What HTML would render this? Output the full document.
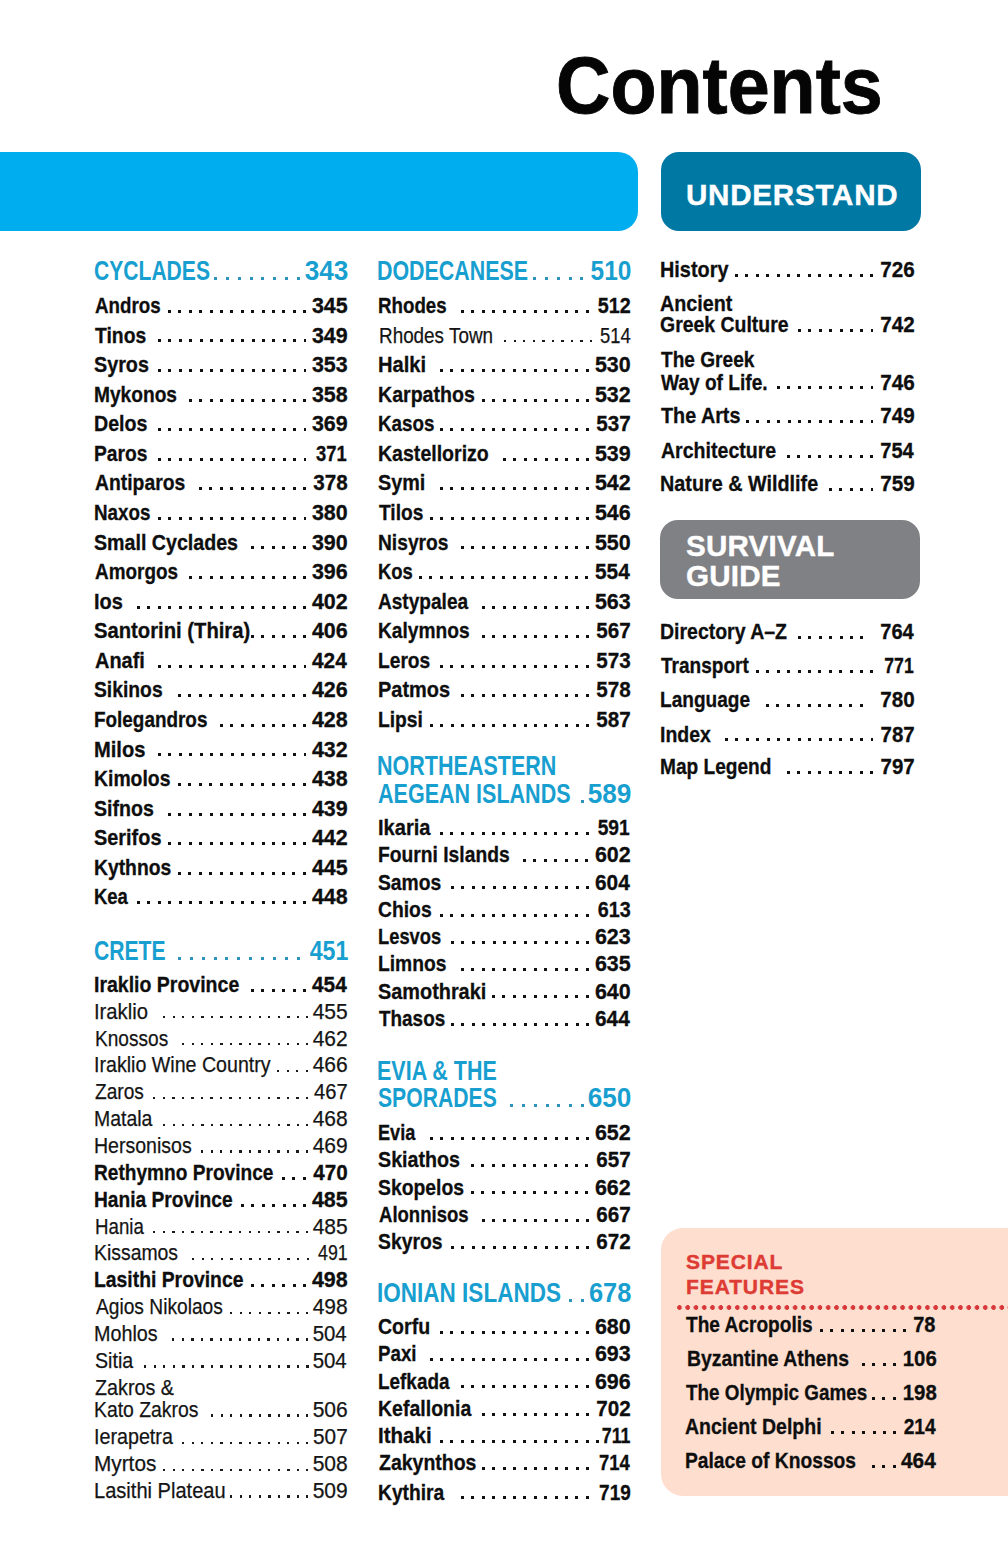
<!DOCTYPE html><html><head><meta charset="utf-8"><title>Contents</title><style>

*{margin:0;padding:0;box-sizing:border-box}
html,body{width:1008px;height:1552px;background:#fff;overflow:hidden}
body{position:relative;font-family:"Liberation Sans",sans-serif;color:#111}
.title{position:absolute;left:0;top:0;font-weight:bold;white-space:nowrap;color:#050505}
.bar{position:absolute;left:-30px;top:152px;width:668px;height:79px;background:#00aeef;border-radius:20px}
.box{position:absolute;color:#fff;font-weight:bold;white-space:nowrap}
.und{left:661px;top:152px;width:260px;height:79px;background:#0078a4;border-radius:18px}
.surv{left:660px;top:520px;width:260px;height:79px;background:#808185;border-radius:18px}
.spec{position:absolute;left:661px;top:1228px;width:380px;height:268px;background:#fddecf;border-radius:22px}
.row{position:absolute;height:30px;line-height:30px;white-space:nowrap}
.row .l{position:absolute;top:0;transform-origin:0 0}
.dt{position:absolute;display:block}
.row .n{position:absolute;top:0;transform-origin:100% 0}
.row.b{font-weight:bold;color:#0e0e0e;-webkit-text-stroke:0.3px #0e0e0e}
.row.r{font-weight:normal;color:#141414;-webkit-text-stroke:0.25px #141414}
.row.h{font-weight:bold;color:#189fd0}
.sph{position:absolute;left:686px;top:0;font-weight:bold;color:#dd3b34;font-size:21px;line-height:24.6px;letter-spacing:0.9px;white-space:nowrap;-webkit-text-stroke:0.4px #dd3b34}
.dline{position:absolute;left:676.9px;top:1305px;width:340px;height:5px;background:radial-gradient(circle at 2.5px 2.5px,#d8383a 2.1px,transparent 2.6px) 0 0/8.28px 5px repeat-x}

</style></head><body>
<div class="title" style="left:555.5px;top:40.3px;-webkit-text-stroke:0.9px #050505;font-size:80px;line-height:92.0px;transform:scaleX(0.9425);transform-origin:0 0">Contents</div>
<div class="bar"></div>
<div class="box und"><span style="position:absolute;left:25px;top:24.5px;font-size:29.6px;line-height:36px;letter-spacing:0.75px;-webkit-text-stroke:0.4px #fff">UNDERSTAND</span></div>
<div class="box surv"><span style="position:absolute;left:26px;top:10.7px;font-size:29.6px;line-height:30.5px;letter-spacing:0.2px;-webkit-text-stroke:0.4px #fff">SURVIVAL<br>GUIDE</span></div>
<div class="spec"></div>
<div class="sph" style="top:1250.0px">SPECIAL<br>FEATURES</div>
<div class="dline"></div>
<div class="row h" style="left:91px;width:255.60px;top:256.18px;font-size:27.2px"><span class="l" style="left:2.80px;transform:scaleX(0.7755)">CYCLADES</span><span class="n" style="right:-1.81px;transform:scaleX(0.9616)">343</span><i class="dt" style="left:122.90px;top:20.62px;width:86.02px;height:3.0px;background:repeating-linear-gradient(90deg,#2e93bd 0 3.0px,transparent 3.0px 11.86px)"></i></div>
<div class="row b" style="left:90px;width:256.60px;top:290.98px;font-size:22.0px"><span class="l" style="left:4.60px;transform:scaleX(0.8520)">Andros</span><span class="n" style="right:-0.81px;transform:scaleX(0.9743)">345</span><i class="dt" style="left:77.90px;top:18.82px;width:138.20px;height:3.0px;background:repeating-linear-gradient(90deg,#111 0 3.0px,transparent 3.0px 10.4px)"></i></div>
<div class="row b" style="left:90px;width:256.60px;top:320.55px;font-size:22.0px"><span class="l" style="left:4.60px;transform:scaleX(0.8790)">Tinos</span><span class="n" style="right:-0.81px;transform:scaleX(0.9743)">349</span><i class="dt" style="left:67.50px;top:18.82px;width:148.60px;height:3.0px;background:repeating-linear-gradient(90deg,#111 0 3.0px,transparent 3.0px 10.4px)"></i></div>
<div class="row b" style="left:90px;width:256.60px;top:350.13px;font-size:22.0px"><span class="l" style="left:3.60px;transform:scaleX(0.8976)">Syros</span><span class="n" style="right:-0.81px;transform:scaleX(0.9743)">353</span><i class="dt" style="left:67.50px;top:18.82px;width:148.60px;height:3.0px;background:repeating-linear-gradient(90deg,#111 0 3.0px,transparent 3.0px 10.4px)"></i></div>
<div class="row b" style="left:90px;width:256.60px;top:379.70px;font-size:22.0px"><span class="l" style="left:3.60px;transform:scaleX(0.8708)">Mykonos</span><span class="n" style="right:-0.81px;transform:scaleX(0.9743)">358</span><i class="dt" style="left:98.70px;top:18.82px;width:117.40px;height:3.0px;background:repeating-linear-gradient(90deg,#111 0 3.0px,transparent 3.0px 10.4px)"></i></div>
<div class="row b" style="left:90px;width:256.60px;top:409.28px;font-size:22.0px"><span class="l" style="left:3.60px;transform:scaleX(0.8925)">Delos</span><span class="n" style="right:-0.81px;transform:scaleX(0.9743)">369</span><i class="dt" style="left:67.50px;top:18.82px;width:148.60px;height:3.0px;background:repeating-linear-gradient(90deg,#111 0 3.0px,transparent 3.0px 10.4px)"></i></div>
<div class="row b" style="left:90px;width:256.60px;top:438.85px;font-size:22.0px"><span class="l" style="left:3.60px;transform:scaleX(0.8745)">Paros</span><span class="n" style="right:0.19px;transform:scaleX(0.8368)">371</span><i class="dt" style="left:67.50px;top:18.82px;width:148.60px;height:3.0px;background:repeating-linear-gradient(90deg,#111 0 3.0px,transparent 3.0px 10.4px)"></i></div>
<div class="row b" style="left:90px;width:256.60px;top:468.43px;font-size:22.0px"><span class="l" style="left:4.60px;transform:scaleX(0.8786)">Antiparos</span><span class="n" style="right:-0.81px;transform:scaleX(0.9376)">378</span><i class="dt" style="left:109.10px;top:18.82px;width:107.00px;height:3.0px;background:repeating-linear-gradient(90deg,#111 0 3.0px,transparent 3.0px 10.4px)"></i></div>
<div class="row b" style="left:90px;width:256.60px;top:498.00px;font-size:22.0px"><span class="l" style="left:3.60px;transform:scaleX(0.8547)">Naxos</span><span class="n" style="right:-0.81px;transform:scaleX(0.9743)">380</span><i class="dt" style="left:67.50px;top:18.82px;width:148.60px;height:3.0px;background:repeating-linear-gradient(90deg,#111 0 3.0px,transparent 3.0px 10.4px)"></i></div>
<div class="row b" style="left:90px;width:256.60px;top:527.58px;font-size:22.0px"><span class="l" style="left:3.60px;transform:scaleX(0.8923)">Small Cyclades</span><span class="n" style="right:-0.81px;transform:scaleX(0.9743)">390</span><i class="dt" style="left:161.10px;top:18.82px;width:55.00px;height:3.0px;background:repeating-linear-gradient(90deg,#111 0 3.0px,transparent 3.0px 10.4px)"></i></div>
<div class="row b" style="left:90px;width:256.60px;top:557.15px;font-size:22.0px"><span class="l" style="left:4.60px;transform:scaleX(0.8597)">Amorgos</span><span class="n" style="right:-0.81px;transform:scaleX(0.9743)">396</span><i class="dt" style="left:98.70px;top:18.82px;width:117.40px;height:3.0px;background:repeating-linear-gradient(90deg,#111 0 3.0px,transparent 3.0px 10.4px)"></i></div>
<div class="row b" style="left:90px;width:256.60px;top:586.73px;font-size:22.0px"><span class="l" style="left:3.60px;transform:scaleX(0.9085)">Ios</span><span class="n" style="right:-0.81px;transform:scaleX(0.9743)">402</span><i class="dt" style="left:46.70px;top:18.82px;width:169.40px;height:3.0px;background:repeating-linear-gradient(90deg,#111 0 3.0px,transparent 3.0px 10.4px)"></i></div>
<div class="row b" style="left:90px;width:256.60px;top:616.30px;font-size:22.0px"><span class="l" style="left:3.60px;transform:scaleX(0.9196)">Santorini (Thira)</span><span class="n" style="right:-0.81px;transform:scaleX(0.9743)">406</span><i class="dt" style="left:161.10px;top:18.82px;width:55.00px;height:3.0px;background:repeating-linear-gradient(90deg,#111 0 3.0px,transparent 3.0px 10.4px)"></i></div>
<div class="row b" style="left:90px;width:256.60px;top:645.88px;font-size:22.0px"><span class="l" style="left:4.60px;transform:scaleX(0.9062)">Anafi</span><span class="n" style="right:0.19px;transform:scaleX(0.9465)">424</span><i class="dt" style="left:67.50px;top:18.82px;width:148.60px;height:3.0px;background:repeating-linear-gradient(90deg,#111 0 3.0px,transparent 3.0px 10.4px)"></i></div>
<div class="row b" style="left:90px;width:256.60px;top:675.45px;font-size:22.0px"><span class="l" style="left:3.60px;transform:scaleX(0.8770)">Sikinos</span><span class="n" style="right:-0.81px;transform:scaleX(0.9743)">426</span><i class="dt" style="left:88.30px;top:18.82px;width:127.80px;height:3.0px;background:repeating-linear-gradient(90deg,#111 0 3.0px,transparent 3.0px 10.4px)"></i></div>
<div class="row b" style="left:90px;width:256.60px;top:705.03px;font-size:22.0px"><span class="l" style="left:3.60px;transform:scaleX(0.8592)">Folegandros</span><span class="n" style="right:-0.81px;transform:scaleX(0.9743)">428</span><i class="dt" style="left:129.90px;top:18.82px;width:86.20px;height:3.0px;background:repeating-linear-gradient(90deg,#111 0 3.0px,transparent 3.0px 10.4px)"></i></div>
<div class="row b" style="left:90px;width:256.60px;top:734.60px;font-size:22.0px"><span class="l" style="left:3.60px;transform:scaleX(0.9152)">Milos</span><span class="n" style="right:-0.81px;transform:scaleX(0.9743)">432</span><i class="dt" style="left:67.50px;top:18.82px;width:148.60px;height:3.0px;background:repeating-linear-gradient(90deg,#111 0 3.0px,transparent 3.0px 10.4px)"></i></div>
<div class="row b" style="left:90px;width:256.60px;top:764.18px;font-size:22.0px"><span class="l" style="left:3.60px;transform:scaleX(0.8808)">Kimolos</span><span class="n" style="right:-0.81px;transform:scaleX(0.9743)">438</span><i class="dt" style="left:88.30px;top:18.82px;width:127.80px;height:3.0px;background:repeating-linear-gradient(90deg,#111 0 3.0px,transparent 3.0px 10.4px)"></i></div>
<div class="row b" style="left:90px;width:256.60px;top:793.75px;font-size:22.0px"><span class="l" style="left:3.60px;transform:scaleX(0.8900)">Sifnos</span><span class="n" style="right:-0.81px;transform:scaleX(0.9743)">439</span><i class="dt" style="left:77.90px;top:18.82px;width:138.20px;height:3.0px;background:repeating-linear-gradient(90deg,#111 0 3.0px,transparent 3.0px 10.4px)"></i></div>
<div class="row b" style="left:90px;width:256.60px;top:823.33px;font-size:22.0px"><span class="l" style="left:3.60px;transform:scaleX(0.9044)">Serifos</span><span class="n" style="right:-0.81px;transform:scaleX(0.9743)">442</span><i class="dt" style="left:77.90px;top:18.82px;width:138.20px;height:3.0px;background:repeating-linear-gradient(90deg,#111 0 3.0px,transparent 3.0px 10.4px)"></i></div>
<div class="row b" style="left:90px;width:256.60px;top:852.90px;font-size:22.0px"><span class="l" style="left:3.60px;transform:scaleX(0.8777)">Kythnos</span><span class="n" style="right:-0.81px;transform:scaleX(0.9743)">445</span><i class="dt" style="left:88.30px;top:18.82px;width:127.80px;height:3.0px;background:repeating-linear-gradient(90deg,#111 0 3.0px,transparent 3.0px 10.4px)"></i></div>
<div class="row b" style="left:90px;width:256.60px;top:882.48px;font-size:22.0px"><span class="l" style="left:3.60px;transform:scaleX(0.8398)">Kea</span><span class="n" style="right:-0.81px;transform:scaleX(0.9743)">448</span><i class="dt" style="left:46.70px;top:18.82px;width:169.40px;height:3.0px;background:repeating-linear-gradient(90deg,#111 0 3.0px,transparent 3.0px 10.4px)"></i></div>
<div class="row h" style="left:90px;width:257.60px;top:936.18px;font-size:27.2px"><span class="l" style="left:3.60px;transform:scaleX(0.7773)">CRETE</span><span class="n" style="right:-0.81px;transform:scaleX(0.8536)">451</span><i class="dt" style="left:88.32px;top:20.62px;width:121.60px;height:3.0px;background:repeating-linear-gradient(90deg,#2e93bd 0 3.0px,transparent 3.0px 11.86px)"></i></div>
<div class="row b" style="left:90px;width:256.60px;top:969.78px;font-size:22.0px"><span class="l" style="left:3.60px;transform:scaleX(0.8863)">Iraklio Province</span><span class="n" style="right:0.19px;transform:scaleX(0.9465)">454</span><i class="dt" style="left:161.10px;top:18.82px;width:55.00px;height:3.0px;background:repeating-linear-gradient(90deg,#111 0 3.0px,transparent 3.0px 10.4px)"></i></div>
<div class="row r" style="left:91px;width:255.60px;top:996.65px;font-size:22.0px"><span class="l" style="left:2.60px;transform:scaleX(0.9187)">Iraklio</span><span class="n" style="right:-0.81px;transform:scaleX(0.9546)">455</span><i class="dt" style="left:71.85px;top:19.42px;width:145.65px;height:2.4px;background:repeating-linear-gradient(90deg,#1a1a1a 0 2.4px,transparent 2.4px 9.55px)"></i></div>
<div class="row r" style="left:91px;width:255.60px;top:1023.52px;font-size:22.0px"><span class="l" style="left:3.60px;transform:scaleX(0.8681)">Knossos</span><span class="n" style="right:-0.81px;transform:scaleX(0.9546)">462</span><i class="dt" style="left:90.95px;top:19.42px;width:126.55px;height:2.4px;background:repeating-linear-gradient(90deg,#1a1a1a 0 2.4px,transparent 2.4px 9.55px)"></i></div>
<div class="row r" style="left:91px;width:255.60px;top:1050.39px;font-size:22.0px"><span class="l" style="left:2.60px;transform:scaleX(0.8917)">Iraklio Wine Country</span><span class="n" style="right:-0.81px;transform:scaleX(0.9546)">466</span><i class="dt" style="left:186.45px;top:19.42px;width:31.05px;height:2.4px;background:repeating-linear-gradient(90deg,#1a1a1a 0 2.4px,transparent 2.4px 9.55px)"></i></div>
<div class="row r" style="left:91px;width:255.60px;top:1077.26px;font-size:22.0px"><span class="l" style="left:3.60px;transform:scaleX(0.8686)">Zaros</span><span class="n" style="right:-0.81px;transform:scaleX(0.9149)">467</span><i class="dt" style="left:62.30px;top:19.42px;width:155.20px;height:2.4px;background:repeating-linear-gradient(90deg,#1a1a1a 0 2.4px,transparent 2.4px 9.55px)"></i></div>
<div class="row r" style="left:91px;width:255.60px;top:1104.13px;font-size:22.0px"><span class="l" style="left:2.60px;transform:scaleX(0.8851)">Matala</span><span class="n" style="right:-0.81px;transform:scaleX(0.9546)">468</span><i class="dt" style="left:71.85px;top:19.42px;width:145.65px;height:2.4px;background:repeating-linear-gradient(90deg,#1a1a1a 0 2.4px,transparent 2.4px 9.55px)"></i></div>
<div class="row r" style="left:91px;width:255.60px;top:1131.00px;font-size:22.0px"><span class="l" style="left:2.60px;transform:scaleX(0.8875)">Hersonisos</span><span class="n" style="right:-0.81px;transform:scaleX(0.9546)">469</span><i class="dt" style="left:110.05px;top:19.42px;width:107.45px;height:2.4px;background:repeating-linear-gradient(90deg,#1a1a1a 0 2.4px,transparent 2.4px 9.55px)"></i></div>
<div class="row b" style="left:90px;width:256.60px;top:1157.87px;font-size:22.0px"><span class="l" style="left:3.60px;transform:scaleX(0.8684)">Rethymno Province</span><span class="n" style="right:-0.81px;transform:scaleX(0.9376)">470</span><i class="dt" style="left:192.30px;top:18.82px;width:23.80px;height:3.0px;background:repeating-linear-gradient(90deg,#111 0 3.0px,transparent 3.0px 10.4px)"></i></div>
<div class="row b" style="left:90px;width:256.60px;top:1184.74px;font-size:22.0px"><span class="l" style="left:3.60px;transform:scaleX(0.8721)">Hania Province</span><span class="n" style="right:-0.81px;transform:scaleX(0.9743)">485</span><i class="dt" style="left:150.70px;top:18.82px;width:65.40px;height:3.0px;background:repeating-linear-gradient(90deg,#111 0 3.0px,transparent 3.0px 10.4px)"></i></div>
<div class="row r" style="left:91px;width:255.60px;top:1211.61px;font-size:22.0px"><span class="l" style="left:3.60px;transform:scaleX(0.8493)">Hania</span><span class="n" style="right:-0.81px;transform:scaleX(0.9546)">485</span><i class="dt" style="left:62.30px;top:19.42px;width:155.20px;height:2.4px;background:repeating-linear-gradient(90deg,#1a1a1a 0 2.4px,transparent 2.4px 9.55px)"></i></div>
<div class="row r" style="left:91px;width:255.60px;top:1238.48px;font-size:22.0px"><span class="l" style="left:2.60px;transform:scaleX(0.8814)">Kissamos</span><span class="n" style="right:-0.81px;transform:scaleX(0.8080)">491</span><i class="dt" style="left:100.50px;top:19.42px;width:117.00px;height:2.4px;background:repeating-linear-gradient(90deg,#1a1a1a 0 2.4px,transparent 2.4px 9.55px)"></i></div>
<div class="row b" style="left:90px;width:256.60px;top:1265.35px;font-size:22.0px"><span class="l" style="left:3.60px;transform:scaleX(0.8791)">Lasithi Province</span><span class="n" style="right:-0.81px;transform:scaleX(0.9743)">498</span><i class="dt" style="left:161.10px;top:18.82px;width:55.00px;height:3.0px;background:repeating-linear-gradient(90deg,#111 0 3.0px,transparent 3.0px 10.4px)"></i></div>
<div class="row r" style="left:91px;width:255.60px;top:1292.22px;font-size:22.0px"><span class="l" style="left:4.60px;transform:scaleX(0.8714)">Agios Nikolaos</span><span class="n" style="right:-0.81px;transform:scaleX(0.9546)">498</span><i class="dt" style="left:138.70px;top:19.42px;width:78.80px;height:2.4px;background:repeating-linear-gradient(90deg,#1a1a1a 0 2.4px,transparent 2.4px 9.55px)"></i></div>
<div class="row r" style="left:91px;width:255.60px;top:1319.09px;font-size:22.0px"><span class="l" style="left:2.60px;transform:scaleX(0.8978)">Mohlos</span><span class="n" style="right:0.19px;transform:scaleX(0.9273)">504</span><i class="dt" style="left:81.40px;top:19.42px;width:136.10px;height:2.4px;background:repeating-linear-gradient(90deg,#1a1a1a 0 2.4px,transparent 2.4px 9.55px)"></i></div>
<div class="row r" style="left:91px;width:255.60px;top:1345.96px;font-size:22.0px"><span class="l" style="left:3.60px;transform:scaleX(0.8926)">Sitia</span><span class="n" style="right:0.19px;transform:scaleX(0.9273)">504</span><i class="dt" style="left:52.75px;top:19.42px;width:164.75px;height:2.4px;background:repeating-linear-gradient(90deg,#1a1a1a 0 2.4px,transparent 2.4px 9.55px)"></i></div>
<div class="row r" style="left:91px;width:255.60px;top:1372.83px;font-size:22.0px"><span class="l" style="left:3.60px;transform:scaleX(0.8979)">Zakros &amp;</span></div>
<div class="row r" style="left:91px;width:255.60px;top:1395.08px;font-size:22.0px"><span class="l" style="left:2.60px;transform:scaleX(0.8806)">Kato Zakros</span><span class="n" style="right:-0.81px;transform:scaleX(0.9546)">506</span><i class="dt" style="left:119.60px;top:19.42px;width:97.90px;height:2.4px;background:repeating-linear-gradient(90deg,#1a1a1a 0 2.4px,transparent 2.4px 9.55px)"></i></div>
<div class="row r" style="left:91px;width:255.60px;top:1422.28px;font-size:22.0px"><span class="l" style="left:2.60px;transform:scaleX(0.8954)">Ierapetra</span><span class="n" style="right:-0.81px;transform:scaleX(0.9435)">507</span><i class="dt" style="left:90.95px;top:19.42px;width:126.55px;height:2.4px;background:repeating-linear-gradient(90deg,#1a1a1a 0 2.4px,transparent 2.4px 9.55px)"></i></div>
<div class="row r" style="left:91px;width:255.60px;top:1449.18px;font-size:22.0px"><span class="l" style="left:2.60px;transform:scaleX(0.9442)">Myrtos</span><span class="n" style="right:-0.81px;transform:scaleX(0.9546)">508</span><i class="dt" style="left:71.85px;top:19.42px;width:145.65px;height:2.4px;background:repeating-linear-gradient(90deg,#1a1a1a 0 2.4px,transparent 2.4px 9.55px)"></i></div>
<div class="row r" style="left:91px;width:255.60px;top:1476.08px;font-size:22.0px"><span class="l" style="left:2.60px;transform:scaleX(0.9125)">Lasithi Plateau</span><span class="n" style="right:-0.81px;transform:scaleX(0.9546)">509</span><i class="dt" style="left:138.70px;top:19.42px;width:78.80px;height:2.4px;background:repeating-linear-gradient(90deg,#1a1a1a 0 2.4px,transparent 2.4px 9.55px)"></i></div>
<div class="row h" style="left:375px;width:254.60px;top:256.18px;font-size:27.2px"><span class="l" style="left:1.80px;transform:scaleX(0.7871)">DODECANESE</span><span class="n" style="right:-1.81px;transform:scaleX(0.8997)">510</span><i class="dt" style="left:158.48px;top:20.62px;width:50.44px;height:3.0px;background:repeating-linear-gradient(90deg,#2e93bd 0 3.0px,transparent 3.0px 11.86px)"></i></div>
<div class="row b" style="left:374px;width:255.60px;top:290.98px;font-size:22.0px"><span class="l" style="left:3.60px;transform:scaleX(0.8507)">Rhodes</span><span class="n" style="right:-0.81px;transform:scaleX(0.8981)">512</span><i class="dt" style="left:86.90px;top:18.82px;width:127.80px;height:3.0px;background:repeating-linear-gradient(90deg,#111 0 3.0px,transparent 3.0px 10.4px)"></i></div>
<div class="row r" style="left:375px;width:254.60px;top:320.55px;font-size:22.0px"><span class="l" style="left:3.60px;transform:scaleX(0.8579)">Rhodes Town</span><span class="n" style="right:-0.81px;transform:scaleX(0.8359)">514</span><i class="dt" style="left:129.25px;top:19.42px;width:88.35px;height:2.4px;background:repeating-linear-gradient(90deg,#1a1a1a 0 2.4px,transparent 2.4px 9.55px)"></i></div>
<div class="row b" style="left:374px;width:255.60px;top:350.13px;font-size:22.0px"><span class="l" style="left:3.60px;transform:scaleX(0.9148)">Halki</span><span class="n" style="right:-0.81px;transform:scaleX(0.9743)">530</span><i class="dt" style="left:66.10px;top:18.82px;width:148.60px;height:3.0px;background:repeating-linear-gradient(90deg,#111 0 3.0px,transparent 3.0px 10.4px)"></i></div>
<div class="row b" style="left:374px;width:255.60px;top:379.70px;font-size:22.0px"><span class="l" style="left:3.60px;transform:scaleX(0.8902)">Karpathos</span><span class="n" style="right:-0.81px;transform:scaleX(0.9743)">532</span><i class="dt" style="left:107.70px;top:18.82px;width:107.00px;height:3.0px;background:repeating-linear-gradient(90deg,#111 0 3.0px,transparent 3.0px 10.4px)"></i></div>
<div class="row b" style="left:374px;width:255.60px;top:409.28px;font-size:22.0px"><span class="l" style="left:3.60px;transform:scaleX(0.8547)">Kasos</span><span class="n" style="right:-0.81px;transform:scaleX(0.9376)">537</span><i class="dt" style="left:66.10px;top:18.82px;width:148.60px;height:3.0px;background:repeating-linear-gradient(90deg,#111 0 3.0px,transparent 3.0px 10.4px)"></i></div>
<div class="row b" style="left:374px;width:255.60px;top:438.85px;font-size:22.0px"><span class="l" style="left:3.60px;transform:scaleX(0.8887)">Kastellorizo</span><span class="n" style="right:-0.81px;transform:scaleX(0.9743)">539</span><i class="dt" style="left:128.50px;top:18.82px;width:86.20px;height:3.0px;background:repeating-linear-gradient(90deg,#111 0 3.0px,transparent 3.0px 10.4px)"></i></div>
<div class="row b" style="left:374px;width:255.60px;top:468.43px;font-size:22.0px"><span class="l" style="left:3.60px;transform:scaleX(0.8998)">Symi</span><span class="n" style="right:-0.81px;transform:scaleX(0.9743)">542</span><i class="dt" style="left:66.10px;top:18.82px;width:148.60px;height:3.0px;background:repeating-linear-gradient(90deg,#111 0 3.0px,transparent 3.0px 10.4px)"></i></div>
<div class="row b" style="left:374px;width:255.60px;top:498.00px;font-size:22.0px"><span class="l" style="left:4.60px;transform:scaleX(0.8721)">Tilos</span><span class="n" style="right:-0.81px;transform:scaleX(0.9743)">546</span><i class="dt" style="left:55.70px;top:18.82px;width:159.00px;height:3.0px;background:repeating-linear-gradient(90deg,#111 0 3.0px,transparent 3.0px 10.4px)"></i></div>
<div class="row b" style="left:374px;width:255.60px;top:527.58px;font-size:22.0px"><span class="l" style="left:3.60px;transform:scaleX(0.8730)">Nisyros</span><span class="n" style="right:-0.81px;transform:scaleX(0.9743)">550</span><i class="dt" style="left:86.90px;top:18.82px;width:127.80px;height:3.0px;background:repeating-linear-gradient(90deg,#111 0 3.0px,transparent 3.0px 10.4px)"></i></div>
<div class="row b" style="left:374px;width:255.60px;top:557.15px;font-size:22.0px"><span class="l" style="left:3.60px;transform:scaleX(0.8390)">Kos</span><span class="n" style="right:0.19px;transform:scaleX(0.9465)">554</span><i class="dt" style="left:45.30px;top:18.82px;width:169.40px;height:3.0px;background:repeating-linear-gradient(90deg,#111 0 3.0px,transparent 3.0px 10.4px)"></i></div>
<div class="row b" style="left:374px;width:255.60px;top:586.73px;font-size:22.0px"><span class="l" style="left:3.60px;transform:scaleX(0.8667)">Astypalea</span><span class="n" style="right:-0.81px;transform:scaleX(0.9743)">563</span><i class="dt" style="left:107.70px;top:18.82px;width:107.00px;height:3.0px;background:repeating-linear-gradient(90deg,#111 0 3.0px,transparent 3.0px 10.4px)"></i></div>
<div class="row b" style="left:374px;width:255.60px;top:616.30px;font-size:22.0px"><span class="l" style="left:3.60px;transform:scaleX(0.8714)">Kalymnos</span><span class="n" style="right:-0.81px;transform:scaleX(0.9376)">567</span><i class="dt" style="left:107.70px;top:18.82px;width:107.00px;height:3.0px;background:repeating-linear-gradient(90deg,#111 0 3.0px,transparent 3.0px 10.4px)"></i></div>
<div class="row b" style="left:374px;width:255.60px;top:645.88px;font-size:22.0px"><span class="l" style="left:3.60px;transform:scaleX(0.8723)">Leros</span><span class="n" style="right:-0.81px;transform:scaleX(0.9376)">573</span><i class="dt" style="left:66.10px;top:18.82px;width:148.60px;height:3.0px;background:repeating-linear-gradient(90deg,#111 0 3.0px,transparent 3.0px 10.4px)"></i></div>
<div class="row b" style="left:374px;width:255.60px;top:675.45px;font-size:22.0px"><span class="l" style="left:3.60px;transform:scaleX(0.9070)">Patmos</span><span class="n" style="right:-0.81px;transform:scaleX(0.9376)">578</span><i class="dt" style="left:86.90px;top:18.82px;width:127.80px;height:3.0px;background:repeating-linear-gradient(90deg,#111 0 3.0px,transparent 3.0px 10.4px)"></i></div>
<div class="row b" style="left:374px;width:255.60px;top:705.03px;font-size:22.0px"><span class="l" style="left:3.60px;transform:scaleX(0.8744)">Lipsi</span><span class="n" style="right:-0.81px;transform:scaleX(0.9376)">587</span><i class="dt" style="left:55.70px;top:18.82px;width:159.00px;height:3.0px;background:repeating-linear-gradient(90deg,#111 0 3.0px,transparent 3.0px 10.4px)"></i></div>
<div class="row h" style="left:375px;width:254.60px;top:750.78px;font-size:27.2px"><span class="l" style="left:1.80px;transform:scaleX(0.7918)">NORTHEASTERN</span></div>
<div class="row h" style="left:375px;width:254.60px;top:779.18px;font-size:27.2px"><span class="l" style="left:2.80px;transform:scaleX(0.7917)">AEGEAN ISLANDS</span><span class="n" style="right:-1.81px;transform:scaleX(0.9628)">589</span><i class="dt" style="left:205.92px;top:20.62px;width:3.00px;height:3.0px;background:repeating-linear-gradient(90deg,#2e93bd 0 3.0px,transparent 3.0px 11.86px)"></i></div>
<div class="row b" style="left:374px;width:255.60px;top:812.98px;font-size:22.0px"><span class="l" style="left:3.60px;transform:scaleX(0.9128)">Ikaria</span><span class="n" style="right:0.19px;transform:scaleX(0.8725)">591</span><i class="dt" style="left:66.10px;top:18.82px;width:148.60px;height:3.0px;background:repeating-linear-gradient(90deg,#111 0 3.0px,transparent 3.0px 10.4px)"></i></div>
<div class="row b" style="left:374px;width:255.60px;top:840.24px;font-size:22.0px"><span class="l" style="left:3.60px;transform:scaleX(0.8754)">Fourni Islands</span><span class="n" style="right:-0.81px;transform:scaleX(0.9743)">602</span><i class="dt" style="left:149.30px;top:18.82px;width:65.40px;height:3.0px;background:repeating-linear-gradient(90deg,#111 0 3.0px,transparent 3.0px 10.4px)"></i></div>
<div class="row b" style="left:374px;width:255.60px;top:867.50px;font-size:22.0px"><span class="l" style="left:3.60px;transform:scaleX(0.8767)">Samos</span><span class="n" style="right:0.19px;transform:scaleX(0.9465)">604</span><i class="dt" style="left:76.50px;top:18.82px;width:138.20px;height:3.0px;background:repeating-linear-gradient(90deg,#111 0 3.0px,transparent 3.0px 10.4px)"></i></div>
<div class="row b" style="left:374px;width:255.60px;top:894.76px;font-size:22.0px"><span class="l" style="left:3.60px;transform:scaleX(0.8781)">Chios</span><span class="n" style="right:-0.81px;transform:scaleX(0.8981)">613</span><i class="dt" style="left:66.10px;top:18.82px;width:148.60px;height:3.0px;background:repeating-linear-gradient(90deg,#111 0 3.0px,transparent 3.0px 10.4px)"></i></div>
<div class="row b" style="left:374px;width:255.60px;top:922.02px;font-size:22.0px"><span class="l" style="left:3.60px;transform:scaleX(0.8342)">Lesvos</span><span class="n" style="right:-0.81px;transform:scaleX(0.9743)">623</span><i class="dt" style="left:76.50px;top:18.82px;width:138.20px;height:3.0px;background:repeating-linear-gradient(90deg,#111 0 3.0px,transparent 3.0px 10.4px)"></i></div>
<div class="row b" style="left:374px;width:255.60px;top:949.28px;font-size:22.0px"><span class="l" style="left:3.60px;transform:scaleX(0.8749)">Limnos</span><span class="n" style="right:-0.81px;transform:scaleX(0.9743)">635</span><i class="dt" style="left:86.90px;top:18.82px;width:127.80px;height:3.0px;background:repeating-linear-gradient(90deg,#111 0 3.0px,transparent 3.0px 10.4px)"></i></div>
<div class="row b" style="left:374px;width:255.60px;top:976.54px;font-size:22.0px"><span class="l" style="left:3.60px;transform:scaleX(0.9035)">Samothraki</span><span class="n" style="right:-0.81px;transform:scaleX(0.9743)">640</span><i class="dt" style="left:118.10px;top:18.82px;width:96.60px;height:3.0px;background:repeating-linear-gradient(90deg,#111 0 3.0px,transparent 3.0px 10.4px)"></i></div>
<div class="row b" style="left:374px;width:255.60px;top:1003.80px;font-size:22.0px"><span class="l" style="left:4.60px;transform:scaleX(0.8596)">Thasos</span><span class="n" style="right:0.19px;transform:scaleX(0.9465)">644</span><i class="dt" style="left:76.50px;top:18.82px;width:138.20px;height:3.0px;background:repeating-linear-gradient(90deg,#111 0 3.0px,transparent 3.0px 10.4px)"></i></div>
<div class="row h" style="left:375px;width:254.60px;top:1056.18px;font-size:27.2px"><span class="l" style="left:1.80px;transform:scaleX(0.7905)">EVIA &amp; THE</span></div>
<div class="row h" style="left:375px;width:254.60px;top:1082.98px;font-size:27.2px"><span class="l" style="left:2.80px;transform:scaleX(0.7785)">SPORADES</span><span class="n" style="right:-1.81px;transform:scaleX(0.9628)">650</span><i class="dt" style="left:134.76px;top:20.62px;width:74.16px;height:3.0px;background:repeating-linear-gradient(90deg,#2e93bd 0 3.0px,transparent 3.0px 11.86px)"></i></div>
<div class="row b" style="left:374px;width:255.60px;top:1118.08px;font-size:22.0px"><span class="l" style="left:3.60px;transform:scaleX(0.8241)">Evia</span><span class="n" style="right:-0.81px;transform:scaleX(0.9743)">652</span><i class="dt" style="left:55.70px;top:18.82px;width:159.00px;height:3.0px;background:repeating-linear-gradient(90deg,#111 0 3.0px,transparent 3.0px 10.4px)"></i></div>
<div class="row b" style="left:374px;width:255.60px;top:1145.38px;font-size:22.0px"><span class="l" style="left:3.60px;transform:scaleX(0.8948)">Skiathos</span><span class="n" style="right:-0.81px;transform:scaleX(0.9376)">657</span><i class="dt" style="left:97.30px;top:18.82px;width:117.40px;height:3.0px;background:repeating-linear-gradient(90deg,#111 0 3.0px,transparent 3.0px 10.4px)"></i></div>
<div class="row b" style="left:374px;width:255.60px;top:1172.68px;font-size:22.0px"><span class="l" style="left:3.60px;transform:scaleX(0.8797)">Skopelos</span><span class="n" style="right:-0.81px;transform:scaleX(0.9743)">662</span><i class="dt" style="left:97.30px;top:18.82px;width:117.40px;height:3.0px;background:repeating-linear-gradient(90deg,#111 0 3.0px,transparent 3.0px 10.4px)"></i></div>
<div class="row b" style="left:374px;width:255.60px;top:1199.98px;font-size:22.0px"><span class="l" style="left:4.60px;transform:scaleX(0.8426)">Alonnisos</span><span class="n" style="right:-0.81px;transform:scaleX(0.9376)">667</span><i class="dt" style="left:107.70px;top:18.82px;width:107.00px;height:3.0px;background:repeating-linear-gradient(90deg,#111 0 3.0px,transparent 3.0px 10.4px)"></i></div>
<div class="row b" style="left:374px;width:255.60px;top:1227.28px;font-size:22.0px"><span class="l" style="left:3.60px;transform:scaleX(0.8784)">Skyros</span><span class="n" style="right:-0.81px;transform:scaleX(0.9376)">672</span><i class="dt" style="left:76.50px;top:18.82px;width:138.20px;height:3.0px;background:repeating-linear-gradient(90deg,#111 0 3.0px,transparent 3.0px 10.4px)"></i></div>
<div class="row h" style="left:375px;width:254.60px;top:1278.08px;font-size:27.2px"><span class="l" style="left:1.80px;transform:scaleX(0.8285)">IONIAN ISLANDS</span><span class="n" style="right:-1.81px;transform:scaleX(0.9347)">678</span><i class="dt" style="left:194.06px;top:20.62px;width:14.86px;height:3.0px;background:repeating-linear-gradient(90deg,#2e93bd 0 3.0px,transparent 3.0px 11.86px)"></i></div>
<div class="row b" style="left:374px;width:255.60px;top:1312.18px;font-size:22.0px"><span class="l" style="left:3.60px;transform:scaleX(0.8880)">Corfu</span><span class="n" style="right:-0.81px;transform:scaleX(0.9743)">680</span><i class="dt" style="left:66.10px;top:18.82px;width:148.60px;height:3.0px;background:repeating-linear-gradient(90deg,#111 0 3.0px,transparent 3.0px 10.4px)"></i></div>
<div class="row b" style="left:374px;width:255.60px;top:1339.38px;font-size:22.0px"><span class="l" style="left:3.60px;transform:scaleX(0.8505)">Paxi</span><span class="n" style="right:-0.81px;transform:scaleX(0.9743)">693</span><i class="dt" style="left:55.70px;top:18.82px;width:159.00px;height:3.0px;background:repeating-linear-gradient(90deg,#111 0 3.0px,transparent 3.0px 10.4px)"></i></div>
<div class="row b" style="left:374px;width:255.60px;top:1366.58px;font-size:22.0px"><span class="l" style="left:3.60px;transform:scaleX(0.8597)">Lefkada</span><span class="n" style="right:-0.81px;transform:scaleX(0.9743)">696</span><i class="dt" style="left:86.90px;top:18.82px;width:127.80px;height:3.0px;background:repeating-linear-gradient(90deg,#111 0 3.0px,transparent 3.0px 10.4px)"></i></div>
<div class="row b" style="left:374px;width:255.60px;top:1393.78px;font-size:22.0px"><span class="l" style="left:3.60px;transform:scaleX(0.8872)">Kefallonia</span><span class="n" style="right:-0.81px;transform:scaleX(0.9376)">702</span><i class="dt" style="left:107.70px;top:18.82px;width:107.00px;height:3.0px;background:repeating-linear-gradient(90deg,#111 0 3.0px,transparent 3.0px 10.4px)"></i></div>
<div class="row b" style="left:374px;width:255.60px;top:1420.98px;font-size:22.0px"><span class="l" style="left:3.60px;transform:scaleX(0.9339)">Ithaki</span><span class="n" style="right:-0.81px;transform:scaleX(0.8090)">711</span><i class="dt" style="left:66.10px;top:18.82px;width:159.00px;height:3.0px;background:repeating-linear-gradient(90deg,#111 0 3.0px,transparent 3.0px 10.4px)"></i></div>
<div class="row b" style="left:374px;width:255.60px;top:1448.18px;font-size:22.0px"><span class="l" style="left:4.60px;transform:scaleX(0.8853)">Zakynthos</span><span class="n" style="right:0.19px;transform:scaleX(0.8368)">714</span><i class="dt" style="left:107.70px;top:18.82px;width:107.00px;height:3.0px;background:repeating-linear-gradient(90deg,#111 0 3.0px,transparent 3.0px 10.4px)"></i></div>
<div class="row b" style="left:374px;width:255.60px;top:1477.68px;font-size:22.0px"><span class="l" style="left:3.60px;transform:scaleX(0.8745)">Kythira</span><span class="n" style="right:-0.81px;transform:scaleX(0.8614)">719</span><i class="dt" style="left:86.90px;top:18.82px;width:127.80px;height:3.0px;background:repeating-linear-gradient(90deg,#111 0 3.0px,transparent 3.0px 10.4px)"></i></div>
<div class="row b" style="left:657px;width:256.40px;top:255.18px;font-size:22.0px"><span class="l" style="left:3.40px;transform:scaleX(0.9028)">History</span><span class="n" style="right:-1.21px;transform:scaleX(0.9376)">726</span><i class="dt" style="left:78.20px;top:18.82px;width:138.20px;height:3.0px;background:repeating-linear-gradient(90deg,#111 0 3.0px,transparent 3.0px 10.4px)"></i></div>
<div class="row b" style="left:657px;width:256.40px;top:288.68px;font-size:22.0px"><span class="l" style="left:3.40px;transform:scaleX(0.8977)">Ancient</span></div>
<div class="row b" style="left:657px;width:256.40px;top:310.08px;font-size:22.0px"><span class="l" style="left:3.40px;transform:scaleX(0.8840)">Greek Culture</span><span class="n" style="right:-1.21px;transform:scaleX(0.9376)">742</span><i class="dt" style="left:140.60px;top:18.82px;width:75.80px;height:3.0px;background:repeating-linear-gradient(90deg,#111 0 3.0px,transparent 3.0px 10.4px)"></i></div>
<div class="row b" style="left:657px;width:256.40px;top:344.88px;font-size:22.0px"><span class="l" style="left:4.40px;transform:scaleX(0.8677)">The Greek</span></div>
<div class="row b" style="left:657px;width:256.40px;top:367.68px;font-size:22.0px"><span class="l" style="left:4.40px;transform:scaleX(0.8693)">Way of Life.</span><span class="n" style="right:-1.21px;transform:scaleX(0.9376)">746</span><i class="dt" style="left:119.80px;top:18.82px;width:96.60px;height:3.0px;background:repeating-linear-gradient(90deg,#111 0 3.0px,transparent 3.0px 10.4px)"></i></div>
<div class="row b" style="left:657px;width:256.40px;top:401.18px;font-size:22.0px"><span class="l" style="left:4.40px;transform:scaleX(0.8981)">The Arts</span><span class="n" style="right:-1.21px;transform:scaleX(0.9376)">749</span><i class="dt" style="left:88.60px;top:18.82px;width:127.80px;height:3.0px;background:repeating-linear-gradient(90deg,#111 0 3.0px,transparent 3.0px 10.4px)"></i></div>
<div class="row b" style="left:657px;width:256.40px;top:435.98px;font-size:22.0px"><span class="l" style="left:4.40px;transform:scaleX(0.8889)">Architecture</span><span class="n" style="right:-0.21px;transform:scaleX(0.9109)">754</span><i class="dt" style="left:130.20px;top:18.82px;width:86.20px;height:3.0px;background:repeating-linear-gradient(90deg,#111 0 3.0px,transparent 3.0px 10.4px)"></i></div>
<div class="row b" style="left:657px;width:256.40px;top:469.48px;font-size:22.0px"><span class="l" style="left:3.40px;transform:scaleX(0.8998)">Nature &amp; Wildlife</span><span class="n" style="right:-1.21px;transform:scaleX(0.9376)">759</span><i class="dt" style="left:171.80px;top:18.82px;width:44.60px;height:3.0px;background:repeating-linear-gradient(90deg,#111 0 3.0px,transparent 3.0px 10.4px)"></i></div>
<div class="row b" style="left:657px;width:256.40px;top:617.28px;font-size:22.0px"><span class="l" style="left:3.40px;transform:scaleX(0.8853)">Directory A&ndash;Z</span><span class="n" style="right:-0.21px;transform:scaleX(0.9109)">764</span><i class="dt" style="left:140.60px;top:18.82px;width:65.40px;height:3.0px;background:repeating-linear-gradient(90deg,#111 0 3.0px,transparent 3.0px 10.4px)"></i></div>
<div class="row b" style="left:657px;width:256.40px;top:651.38px;font-size:22.0px"><span class="l" style="left:4.40px;transform:scaleX(0.8654)">Transport</span><span class="n" style="right:-0.21px;transform:scaleX(0.8012)">771</span><i class="dt" style="left:99.00px;top:18.82px;width:117.40px;height:3.0px;background:repeating-linear-gradient(90deg,#111 0 3.0px,transparent 3.0px 10.4px)"></i></div>
<div class="row b" style="left:657px;width:256.40px;top:684.78px;font-size:22.0px"><span class="l" style="left:3.40px;transform:scaleX(0.8664)">Language</span><span class="n" style="right:-1.21px;transform:scaleX(0.9376)">780</span><i class="dt" style="left:109.40px;top:18.82px;width:96.60px;height:3.0px;background:repeating-linear-gradient(90deg,#111 0 3.0px,transparent 3.0px 10.4px)"></i></div>
<div class="row b" style="left:657px;width:256.40px;top:719.68px;font-size:22.0px"><span class="l" style="left:3.40px;transform:scaleX(0.8848)">Index</span><span class="n" style="right:-1.21px;transform:scaleX(0.9292)">787</span><i class="dt" style="left:67.80px;top:18.82px;width:148.60px;height:3.0px;background:repeating-linear-gradient(90deg,#111 0 3.0px,transparent 3.0px 10.4px)"></i></div>
<div class="row b" style="left:657px;width:256.40px;top:752.38px;font-size:22.0px"><span class="l" style="left:3.40px;transform:scaleX(0.8683)">Map Legend</span><span class="n" style="right:-1.21px;transform:scaleX(0.9292)">797</span><i class="dt" style="left:130.20px;top:18.82px;width:86.20px;height:3.0px;background:repeating-linear-gradient(90deg,#111 0 3.0px,transparent 3.0px 10.4px)"></i></div>
<div class="row b" style="left:682px;width:253.40px;top:1309.98px;font-size:22.0px"><span class="l" style="left:4.20px;transform:scaleX(0.8680)">The Acropolis</span><span class="n" style="right:-0.21px;transform:scaleX(0.9086)">78</span><i class="dt" style="left:138.40px;top:18.82px;width:86.20px;height:3.0px;background:repeating-linear-gradient(90deg,#111 0 3.0px,transparent 3.0px 10.4px)"></i></div>
<div class="row b" style="left:683px;width:252.40px;top:1344.08px;font-size:22.0px"><span class="l" style="left:4.20px;transform:scaleX(0.8816)">Byzantine Athens</span><span class="n" style="right:-1.21px;transform:scaleX(0.9254)">106</span><i class="dt" style="left:179.00px;top:18.82px;width:34.20px;height:3.0px;background:repeating-linear-gradient(90deg,#111 0 3.0px,transparent 3.0px 10.4px)"></i></div>
<div class="row b" style="left:682px;width:253.40px;top:1377.78px;font-size:22.0px"><span class="l" style="left:4.20px;transform:scaleX(0.8566)">The Olympic Games</span><span class="n" style="right:-1.21px;transform:scaleX(0.9254)">198</span><i class="dt" style="left:190.40px;top:18.82px;width:23.80px;height:3.0px;background:repeating-linear-gradient(90deg,#111 0 3.0px,transparent 3.0px 10.4px)"></i></div>
<div class="row b" style="left:682px;width:253.40px;top:1412.08px;font-size:22.0px"><span class="l" style="left:3.20px;transform:scaleX(0.8870)">Ancient Delphi</span><span class="n" style="right:-0.21px;transform:scaleX(0.8725)">214</span><i class="dt" style="left:148.80px;top:18.82px;width:65.40px;height:3.0px;background:repeating-linear-gradient(90deg,#111 0 3.0px,transparent 3.0px 10.4px)"></i></div>
<div class="row b" style="left:682px;width:253.40px;top:1446.08px;font-size:22.0px"><span class="l" style="left:3.20px;transform:scaleX(0.8742)">Palace of Knossos</span><span class="n" style="right:-0.21px;transform:scaleX(0.9465)">464</span><i class="dt" style="left:190.40px;top:18.82px;width:23.80px;height:3.0px;background:repeating-linear-gradient(90deg,#111 0 3.0px,transparent 3.0px 10.4px)"></i></div>
</body></html>
